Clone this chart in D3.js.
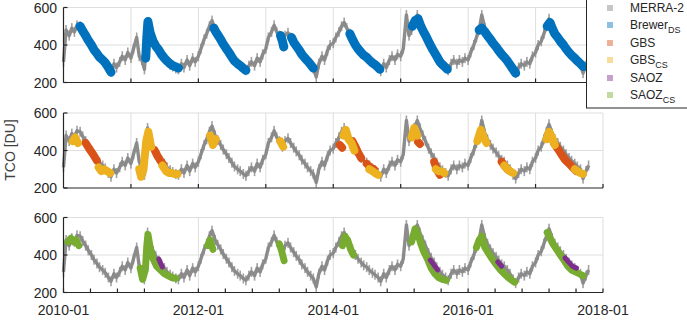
<!DOCTYPE html>
<html><head><meta charset="utf-8">
<script src="https://cdn.jsdelivr.net/npm/d3@7"></script>
<style>body{margin:0;background:#fff}svg{display:block;font-family:"Liberation Sans",Arial,Helvetica,sans-serif}</style>
</head><body><svg id="c" width="687" height="322"></svg>
<script>
// ---------------- DATA ----------------
// MERRA-2 TCO, semi-monthly samples (1st and 15th of each month) starting 2010-01-01
const merraStart = 2010;
const merra = [
 310,480,450,490,470,505,500,475,450,425,400,375,355,335,320,305,280,260,300,280,310,340,320,360,
 330,380,440,340,320,270,520,470,420,395,370,350,330,310,295,285,275,270,300,280,320,290,330,310,
 340,380,430,460,500,530,480,455,430,405,380,360,335,315,300,290,275,265,290,310,290,330,310,350,
 380,440,470,505,470,450,420,450,465,440,415,395,375,350,330,310,290,275,230,300,340,320,370,400,
 410,440,470,500,520,490,460,430,400,380,360,345,335,320,305,295,280,260,300,280,320,340,320,350,
 340,380,560,450,480,520,560,520,480,450,410,385,360,335,310,295,280,265,300,320,300,320,310,330,
 320,360,400,440,480,560,490,460,430,410,390,370,350,340,320,300,270,250,280,300,290,310,300,340,
 360,400,420,460,500,540,490,460,440,420,400,380,360,345,330,315,300,250,290,320
];
// Brewer DS (null separates measurement seasons)
const brewerDS = [
 ["2010-04-01",500],["2010-04-15",475],["2010-05-01",450],["2010-05-15",425],["2010-06-01",400],["2010-06-15",375],["2010-07-01",355],["2010-07-15",335],["2010-08-01",320],["2010-08-15",305],["2010-09-01",280],["2010-09-15",255],null,
 ["2011-03-22",330],["2011-03-28",440],["2011-04-03",525],["2011-04-15",465],["2011-05-01",420],["2011-05-15",395],["2011-06-01",373],["2011-06-15",350],["2011-07-01",330],["2011-07-15",315],["2011-08-01",300],["2011-08-15",290],["2011-09-01",283],["2011-09-15",277],null,
 ["2012-03-25",490],["2012-04-05",470],["2012-04-15",455],["2012-05-01",430],["2012-05-15",405],["2012-06-01",380],["2012-06-15",360],["2012-07-01",335],["2012-07-15",315],["2012-08-01",300],["2012-08-15",290],["2012-09-01",275],["2012-09-15",265],null,
 ["2013-03-22",450],["2013-04-01",420],["2013-04-08",390],null,
 ["2013-05-20",440],["2013-06-01",415],["2013-06-15",395],["2013-07-01",373],["2013-07-15",350],["2013-08-01",330],["2013-08-15",315],["2013-09-01",295],["2013-09-15",277],null,
 ["2014-04-01",460],["2014-04-15",430],["2014-05-01",400],["2014-05-15",380],["2014-06-01",360],["2014-06-15",345],["2014-07-01",335],["2014-07-15",320],["2014-08-01",305],["2014-08-15",295],["2014-09-01",280],["2014-09-10",270],null,
 ["2015-03-05",500],["2015-03-20",530],["2015-04-05",540],["2015-04-20",500],["2015-05-05",470],["2015-05-20",443],["2015-06-05",410],["2015-06-25",373],["2015-07-15",340],["2015-08-01",310],["2015-08-15",295],["2015-09-01",280],["2015-09-10",270],null,
 ["2016-03-01",480],["2016-03-15",490],["2016-04-01",470],["2016-04-15",450],["2016-05-01",430],["2016-05-15",410],["2016-06-01",390],["2016-06-15",370],["2016-07-01",350],["2016-07-15",335],["2016-08-01",315],["2016-08-15",295],["2016-09-01",270],["2016-09-15",250],null,
 ["2017-03-05",500],["2017-03-20",520],["2017-04-01",490],["2017-04-15",460],["2017-05-01",440],["2017-05-15",420],["2017-06-01",400],["2017-06-15",380],["2017-07-01",360],["2017-07-15",345],["2017-08-01",330],["2017-08-15",315],["2017-09-01",300],["2017-09-15",285]
];
// GBS
const gbs = [
 ["2010-05-01",440],["2010-05-20",410],["2010-06-10",380],["2010-07-01",345],null,
 ["2011-05-10",400],["2011-05-25",370],["2011-06-10",345],["2011-06-25",325],null,
 ["2014-02-05",430],["2014-02-18",415],null,
 ["2014-04-15",450],["2014-05-01",420],["2014-05-15",390],["2014-06-01",360],null,
 ["2014-07-01",330],["2014-07-20",310],["2014-08-10",300],null,
 ["2015-04-05",445],["2015-04-15",435],null,
 ["2015-07-01",340],["2015-07-15",300],["2015-08-01",270],null,
 ["2016-07-01",340],["2016-07-15",320],["2016-08-01",300],["2016-08-15",290],null,
 ["2017-04-10",440],["2017-05-01",410],["2017-05-20",380],["2017-06-10",350],["2017-07-01",330],["2017-07-20",310],["2017-08-10",290]
];
// GBS CS
const gbsCS = [
 ["2010-02-20",450],["2010-03-05",470],["2010-03-20",440],null,
 ["2010-07-10",310],["2010-07-25",290],["2010-08-10",300],["2010-08-25",290],["2010-09-10",280],null,
 ["2011-02-15",300],["2011-02-25",260],["2011-03-10",300],["2011-03-25",450],["2011-04-05",500],["2011-04-20",420],null,
 ["2011-06-20",320],["2011-07-10",290],["2011-07-25",280],["2011-08-10",280],["2011-08-25",275],["2011-09-10",275],null,
 ["2012-03-05",480],["2012-03-20",430],["2012-04-05",460],null,
 ["2013-03-20",450],["2013-04-05",420],null,
 ["2014-02-25",480],["2014-03-10",510],["2014-03-25",460],["2014-04-10",440],["2014-04-25",400],null,
 ["2014-07-15",300],["2014-08-01",290],["2014-08-15",280],["2014-09-01",270],null,
 ["2015-03-01",470],["2015-03-15",520],["2015-04-01",480],null,
 ["2015-07-10",300],["2015-07-25",290],["2015-08-10",290],["2015-08-25",280],null,
 ["2016-02-20",450],["2016-03-10",510],["2016-03-25",470],["2016-04-10",440],null,
 ["2016-07-15",320],["2016-08-01",300],["2016-08-15",290],["2016-09-01",280],null,
 ["2017-03-01",460],["2017-03-15",500],["2017-04-01",470],["2017-04-15",430],null,
 ["2017-08-01",300],["2017-08-15",290],["2017-09-01",280],["2017-09-15",275]
];
// SAOZ
const saoz = [
 ["2011-06-01",378],["2011-06-20",336],null,
 ["2015-06-10",373],["2015-07-01",345],["2015-07-20",320],null,
 ["2016-06-10",363],["2016-07-01",340],null,
 ["2017-06-10",384],["2017-07-01",360],["2017-07-20",340],["2017-08-10",330]
];
// SAOZ CS
const saozCS = [
 ["2010-01-25",470],["2010-02-10",490],["2010-02-25",470],["2010-03-10",480],["2010-03-25",450],null,
 ["2011-02-20",330],["2011-03-05",270],["2011-03-20",320],["2011-03-28",450],["2011-04-03",510],["2011-04-15",440],["2011-05-01",380],["2011-05-20",340],["2011-06-10",320],["2011-07-01",300],["2011-07-20",290],["2011-08-10",280],["2011-09-01",275],null,
 ["2012-02-20",450],["2012-03-05",480],["2012-03-20",430],null,
 ["2013-03-15",460],["2013-03-28",420],["2013-04-10",370],null,
 ["2014-02-20",450],["2014-03-05",500],["2014-03-20",480],["2014-04-05",430],["2014-04-20",400],null,
 ["2015-03-01",470],["2015-03-20",540],["2015-04-05",510],["2015-04-20",460],["2015-05-05",420],["2015-05-25",380],["2015-06-15",330],["2015-07-05",300],["2015-07-25",280],["2015-08-15",270],["2015-09-05",265],null,
 ["2016-02-15",440],["2016-03-01",480],["2016-03-15",500],["2016-04-01",440],["2016-04-20",410],["2016-05-10",380],["2016-06-01",350],["2016-06-25",320],["2016-07-15",300],["2016-08-05",280],["2016-08-25",265],["2016-09-10",255],null,
 ["2017-03-05",520],["2017-03-20",490],["2017-04-05",460],["2017-04-25",430],["2017-05-15",400],["2017-06-05",370],["2017-06-25",340],["2017-07-15",320],["2017-08-05",310],["2017-08-25",300],["2017-09-15",290]
];
const yTicks = [200, 400, 600];
const xLabels = ["2010-01","2012-01","2014-01","2016-01","2018-01"];
const legendItems = [
 {name:"MERRA-2", sub:"", color:"#808080"},
 {name:"Brewer", sub:"DS", color:"#0072BD"},
 {name:"GBS", sub:"", color:"#D95319"},
 {name:"GBS", sub:"CS", color:"#EDB120"},
 {name:"SAOZ", sub:"", color:"#7E2F8E"},
 {name:"SAOZ", sub:"CS", color:"#77AC30"}
];
// --------------------------------------

const svg = d3.select("#c");
svg.append("rect").attr("width",687).attr("height",322).attr("fill","#fff");

const toYear = s => { const d = new Date(s + "T00:00:00Z"); const y = d.getUTCFullYear();
  const a = Date.UTC(y,0,1), b = Date.UTC(y+1,0,1); return y + (d - a)/(b - a); };
const merraPts = merra.map((v,i)=>{ const yr = merraStart + Math.floor(i/24); const m = Math.floor((i%24)/2);
  const day = i%2 ? 15 : 1; const mm = String(m+1).padStart(2,"0"); const dd = String(day).padStart(2,"0");
  return [toYear(`${yr}-${mm}-${dd}`), v]; });
const conv = arr => arr.map(d => d ? [toYear(d[0]), d[1]] : null);

const x = d3.scaleLinear().domain([2010, 2018]).range([63.5, 603]);
const panelTops = [7.5, 113, 217.5];
const ph = 75;
const axisColor = "#262626", gridColor = "#dedede";

function panel(i, series, opts){
  const g = svg.append("g").attr("transform", `translate(0,${panelTops[i]})`);
  const y = d3.scaleLinear().domain([200,600]).range([ph,0]);
  g.selectAll(".hg").data([400,600]).join("line")
    .attr("x1", x.range()[0]).attr("x2", x.range()[1]).attr("y1", d=>y(d)).attr("y2", d=>y(d))
    .attr("stroke", gridColor).attr("stroke-width",1);
  g.selectAll(".vg").data(opts.grid).join("line")
    .attr("x1", d=>x(d)).attr("x2", d=>x(d)).attr("y1", 0).attr("y2", ph)
    .attr("stroke", gridColor).attr("stroke-width",1);
  const line = d3.line().defined(d=>d!==null).x(d=>x(d[0])).y(d=>y(d[1]));
  g.append("path").attr("d", line(merraPts)).attr("fill","none")
    .attr("stroke","#8c8c8c").attr("stroke-width",3.4).attr("stroke-linejoin","round");
  g.selectAll(".mp").data(merraPts).join("rect")
    .attr("x", d=>x(d[0])-0.8).attr("y", d=>y(d[1])-5).attr("width",1.6).attr("height",10)
    .attr("fill","#8a8a8a").attr("fill-opacity",0.8);
  series.forEach(s=>{
    const pts = conv(s.data);
    g.append("path").attr("d", line(pts)).attr("fill","none")
      .attr("stroke", s.color).attr("stroke-width", s.w).attr("stroke-linejoin","round").attr("stroke-linecap","round");
  });
  g.append("line").attr("x1",x.range()[0]).attr("x2",x.range()[1]).attr("y1",ph).attr("y2",ph)
    .attr("stroke",axisColor).attr("stroke-width",1.2);
  g.append("line").attr("x1",x.range()[0]).attr("x2",x.range()[0]).attr("y1",0).attr("y2",ph)
    .attr("stroke",axisColor).attr("stroke-width",1.2);
  g.selectAll(".xt").data(opts.ticks).join("line")
    .attr("x1", d=>x(d)).attr("x2", d=>x(d)).attr("y1", ph).attr("y2", ph-4)
    .attr("stroke",axisColor).attr("stroke-width",1.2);
  g.selectAll(".yt").data(yTicks).join("line")
    .attr("x1", x.range()[0]).attr("x2", x.range()[0]+4).attr("y1", d=>y(d)).attr("y2", d=>y(d))
    .attr("stroke",axisColor).attr("stroke-width",1.2);
  g.selectAll(".yl").data(yTicks).join("text")
    .attr("x", 57).attr("y", d=>y(d)).attr("dy","0.36em").attr("text-anchor","end")
    .attr("font-size",14).attr("fill",axisColor).text(d=>d);
  return {g,y};
}

const yearly = d3.range(2011, 2018.5, 1);
panel(0, [{data:brewerDS, color:"#0072BD", w:9}], {grid: yearly, ticks: yearly});
panel(1, [{data:gbs, color:"#D95319", w:8}, {data:gbsCS, color:"#EDB120", w:8}], {grid: yearly, ticks: yearly});
const minor = d3.range(0, 21).map(k => 2010 + k*0.4);
panel(2, [{data:saozCS, color:"#77AC30", w:7}, {data:saoz, color:"#7E2F8E", w:5}], {grid:[2012,2014,2016,2018], ticks: minor});

svg.selectAll(".xl").data(xLabels).join("text")
  .attr("x", (d,i)=>x(2010+2*i)).attr("y", 315).attr("text-anchor","middle")
  .attr("font-size",14).attr("fill",axisColor).text(d=>d);

svg.append("text").attr("transform","translate(15,150) rotate(-90)").attr("text-anchor","middle")
  .attr("font-size",14).attr("fill","#404040").text("TCO [DU]");

const lg = svg.append("g");
lg.append("rect").attr("x",586.5).attr("y",-1).attr("width",110).attr("height",109)
  .attr("fill","#fff").attr("stroke",axisColor).attr("stroke-width",1);
const ly = [8, 25, 43, 60, 78, 95];
legendItems.forEach((it,i)=>{
  lg.append("rect").attr("x",607).attr("y",ly[i]-3).attr("width",6).attr("height",6)
    .attr("fill",it.color).attr("fill-opacity",0.45);
  const t = lg.append("text").attr("x",630).attr("y",ly[i]).attr("dy","0.35em")
    .attr("font-size",12).attr("fill","#262626");
  t.append("tspan").text(it.name);
  if(it.sub) t.append("tspan").attr("font-size",9).attr("dy",4).text(it.sub);
});
</script></body></html>
